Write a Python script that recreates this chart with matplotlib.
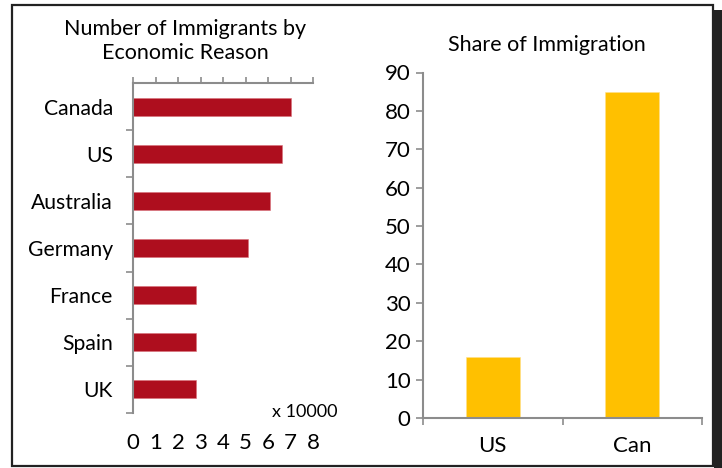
import matplotlib
matplotlib.use("Agg")
import matplotlib.pyplot as plt
from matplotlib.patches import Rectangle

plt.rcParams['font.family'] = ['Lato', 'DejaVu Sans']

# Number of immigrants by economic reason (x 10000)
countries = ["Canada", "US", "Australia", "Germany", "France", "Spain", "UK"]
immigrants = [7.0, 6.6, 6.1, 5.1, 2.8, 2.8, 2.8]
count_ticks = [0, 1, 2, 3, 4, 5, 6, 7, 8]

# Share of immigration (%)
share_labels = ["US", "Can"]
share_values = [16, 85]
share_ticks = [0, 10, 20, 30, 40, 50, 60, 70, 80, 90]

RED = "#AE0E1E"
YELLOW = "#FFC000"
SPINE = "#8C8C8C"
W, H = 722, 468

fig = plt.figure(figsize=(W / 100, H / 100), dpi=100)
fig.patch.set_facecolor("white")

def fx(px):
    return px / W

def fy(py):
    return 1 - py / H

# Frame with drop shadow
fig.patches.append(Rectangle((fx(714), fy(468)), fx(722) - fx(714), fy(10) - fy(468),
                             transform=fig.transFigure, facecolor="#222222",
                             edgecolor="none", zorder=-2))
fig.patches.append(Rectangle((fx(12), fy(466)), fx(713) - fx(12), fy(5) - fy(466),
                             transform=fig.transFigure, facecolor="white",
                             edgecolor="#222222", linewidth=1.6, zorder=-1))

# ---- Left: horizontal bars ----
ax1 = fig.add_axes([fx(133), fy(413), fx(313) - fx(133), fy(83) - fy(413)])
ax1.set_facecolor("none")
ypos = list(range(len(countries)))
ax1.barh(ypos, immigrants, height=0.38, color=RED, edgecolor="#D9707A", linewidth=0.4)
ax1.set_ylim(len(countries) - 0.5, -0.5)
ax1.set_xlim(count_ticks[0], count_ticks[-1])
ax1.set_yticks([y + 0.5 for y in ypos])
ax1.set_yticklabels([])
ax1.set_yticks(ypos, minor=True)
ax1.set_yticklabels(countries, minor=True)
ax1.tick_params(axis="y", which="major", length=5, color=SPINE, width=1.2)
ax1.tick_params(axis="y", which="minor", length=0, pad=14.5, labelsize=15.2)
ax1.set_xticks(count_ticks)
ax1.set_xticklabels([str(t) for t in count_ticks])
ax1.tick_params(axis="x", top=True, bottom=False, labeltop=False, labelbottom=True,
                length=4, color=SPINE, width=1.2, labelsize=16, pad=10.5)
for s in ["right", "bottom"]:
    ax1.spines[s].set_visible(False)
for s in ["left", "top"]:
    ax1.spines[s].set_color(SPINE)
    ax1.spines[s].set_linewidth(1.5)

fig.text(fx(305), fy(412), "x 10000", ha="center", va="center", fontsize=13)
fig.text(fx(185), fy(41), "Number of Immigrants by\nEconomic Reason", ha="center",
         va="center", fontsize=15.5, linespacing=1.3)

# ---- Right: vertical bars ----
ax2 = fig.add_axes([fx(423), fy(418), fx(702) - fx(423), fy(72.5) - fy(418)])
ax2.set_facecolor("none")
xpos = list(range(len(share_labels)))
ax2.bar(xpos, share_values, width=0.39, color=YELLOW, edgecolor="#FFE08A", linewidth=0.4)
ax2.set_xlim(-0.5, len(share_labels) - 0.5)
ax2.set_ylim(share_ticks[0], share_ticks[-1])
ax2.set_yticks(share_ticks)
ax2.tick_params(axis="y", length=5, color=SPINE, width=1.2, labelsize=16, pad=4)
ax2.set_xticks([x - 0.5 for x in xpos] + [len(share_labels) - 0.5])
ax2.set_xticklabels([])
ax2.set_xticks(xpos, minor=True)
ax2.set_xticklabels(share_labels, minor=True)
ax2.tick_params(axis="x", which="major", length=5, color=SPINE, width=1.2)
ax2.tick_params(axis="x", which="minor", length=0, labelsize=16, pad=13)
for s in ["right", "top"]:
    ax2.spines[s].set_visible(False)
for s in ["left", "bottom"]:
    ax2.spines[s].set_color(SPINE)
    ax2.spines[s].set_linewidth(1.5)

fig.text(fx(547), fy(45), "Share of Immigration", ha="center", va="center", fontsize=15.5)

fig.savefig("out.png", dpi=100)
